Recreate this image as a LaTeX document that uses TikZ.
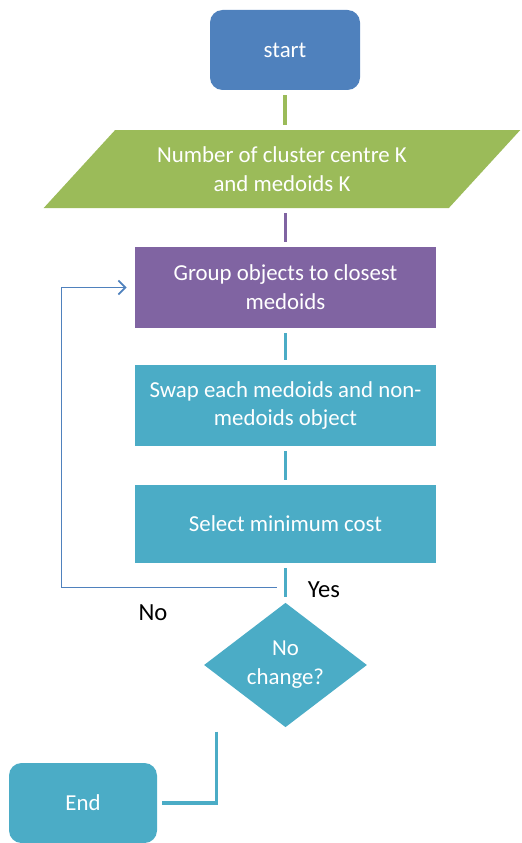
\documentclass[tikz,border=0pt]{standalone}
\usepackage{fontspec}
\setmainfont{Carlito}
\usetikzlibrary{shapes.geometric,arrows.meta,calc}
\definecolor{startblue}{HTML}{4F81BD}
\definecolor{inputgreen}{HTML}{9BBB59}
\definecolor{grouppurple}{HTML}{8064A2}
\definecolor{stepteal}{HTML}{4BACC6}

\begin{document}
\begin{tikzpicture}[
        box/.style={rectangle, minimum width=6.02cm, minimum height=1.62cm, inner sep=0pt,
            text=white, align=center, font=\fontsize{13}{16.4}\selectfont},
        link/.style={line width=2pt, shorten <=0.1cm, shorten >=0.1cm},
        loopline/.style={startblue, line width=1pt, shorten >=0.16cm,
            -{Straight Barb[length=0.14cm,width=0.28cm]}},
        answer/.style={text=black, font=\fontsize{14}{16}\selectfont}
    ]
        \useasboundingbox (0,0) rectangle (10.42,-16.86);

        % flow boxes
        \node[box, fill=startblue, rounded corners=0.25cm, minimum width=3cm, minimum height=1.6cm] (start) at (5.70,-1.00) {start};
        \node[box, trapezium, trapezium left angle=40, trapezium right angle=140, trapezium stretches=true,
            fill=inputgreen, minimum width=9.56cm, minimum height=1.56cm] (input) at (5.64,-3.38) {Number of cluster centre K\\and medoids K};
        \node[box, fill=grouppurple] (group) at (5.71,-5.75) {Group objects to closest\\medoids};
        \node[box, fill=stepteal] (swap) at (5.71,-8.11) {Swap each medoids and non-\\medoids object};
        \node[box, fill=stepteal, minimum height=1.56cm] (select) at (5.71,-10.48) {Select minimum cost};
        \node[box, diamond, fill=stepteal, minimum width=3.26cm, minimum height=2.44cm] (check) at (5.71,-13.30) {No\\change?};
        \node[box, fill=stepteal, rounded corners=0.25cm, minimum width=2.96cm, minimum height=1.6cm] (end) at (1.66,-16.06) {End};

        % connectors
        \draw[link, inputgreen]  (start.south) -- (start.south |- input.north);
        \draw[link, grouppurple] (input.south -| group.north) -- (group.north);
        \draw[link, stepteal]    (group) -- (swap);
        \draw[link, stepteal]    (swap) -- (select);
        \draw[link, stepteal]    (select) -- (check);

        % loop back and exit
        \coordinate (back) at ($(check.north)+(-0.18,0.30)$);
        \draw[loopline] (back) -- ++(-4.30,0) |- (group.west);
        \coordinate (down) at ($(check.south)+(-1.38,-0.08)$);
        \draw[link, stepteal, shorten <=0pt] (down) |- (end.east);

        \node[answer] (yes) at (6.48,-11.80) {Yes};
        \node[answer] (no)  at (3.06,-12.26) {No};
    \end{tikzpicture}
\end{document}
